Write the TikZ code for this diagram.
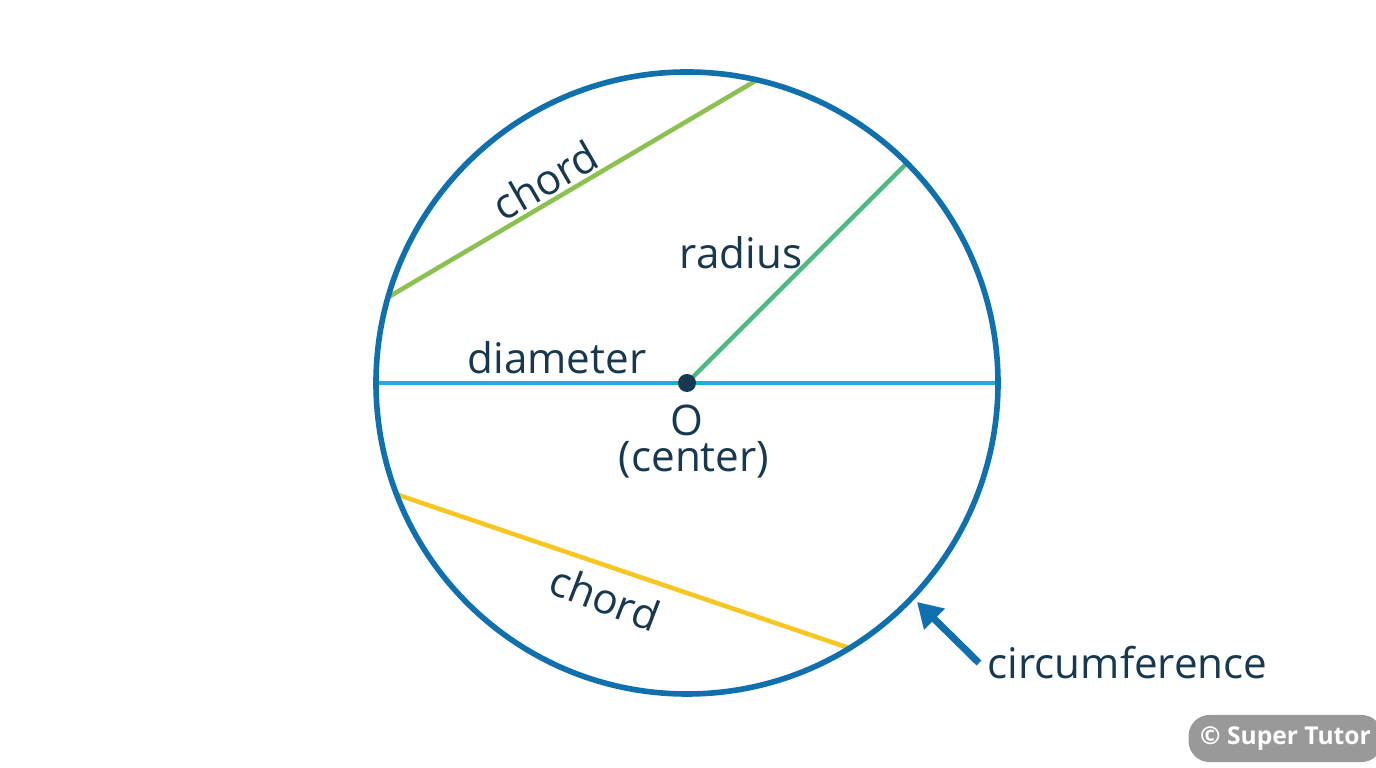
\documentclass[tikz,border=0pt]{standalone}
\usepackage{fontspec}
\setmainfont{Open Sans}
\usetikzlibrary{arrows.meta,calc}
\definecolor{ink}{HTML}{17384F}
\definecolor{rim}{HTML}{1070AE}
\definecolor{diamc}{HTML}{1CB0D9}
\definecolor{radc}{HTML}{4DB983}
\definecolor{chordA}{HTML}{8CC152}
\definecolor{chordB}{HTML}{F6C623}
\tikzset{lbl/.style={text=ink,font=\fontsize{12}{14}\selectfont,inner sep=0pt}}
\begin{document}
\begin{tikzpicture}
  \useasboundingbox (0,0) rectangle (13.76,7.68);
  \coordinate (O) at (6.87,3.85);
  % chords, diameter, radius
  \draw[chordA,line width=1.3pt] ($(O)+(164:3.11)$) coordinate (a1) -- ($(O)+(77:3.11)$) coordinate (a2);
  \draw[chordB,line width=1.3pt] ($(O)+(201:3.11)$) coordinate (b1) -- ($(O)+(301.5:3.11)$) coordinate (b2);
  \draw[diamc,line width=1.3pt] ($(O)+(180:3.11)$) coordinate (d1) -- ($(O)+(0:3.11)$) coordinate (d2);
  \draw[radc,line width=1.3pt] (O) -- ($(O)+(45:3.11)$) coordinate (r1);
  % circle
  \draw[rim,line width=1.6pt] (O) circle (3.11);
  \fill[ink] (O) circle (0.09);
  % labels
  \node[lbl,rotate=30] (lc1) at (5.45,5.88) {chord};
  \node[lbl,rotate=-21] (lc2) at (6.05,1.70) {chord};
  \node[lbl] (lr) at (7.41,5.15) {radius};
  \node[lbl] (ld) at (5.57,4.10) {diameter};
  \node[lbl] (lo) at (6.87,3.48) {O};
  \node[lbl] (lcen) at (6.94,3.08) {(center)};
  \node[lbl,anchor=west] (lcirc) at (9.87,1.05) {circumference};
  \coordinate (tip) at (9.17,1.66);
  \draw[rim,line width=2pt,-{Triangle[length=7pt,width=8pt]}] ($(lcirc.west)+(-0.08,0)$) -- (tip);
  % watermark
  \node[fill=black!40,text=white,rounded corners=6pt,minimum width=1.53cm,minimum height=0.31cm,
        font=\bfseries\fontsize{7}{8}\selectfont] (wm) at (12.855,0.295) {© Super Tutor};
\end{tikzpicture}
\end{document}
